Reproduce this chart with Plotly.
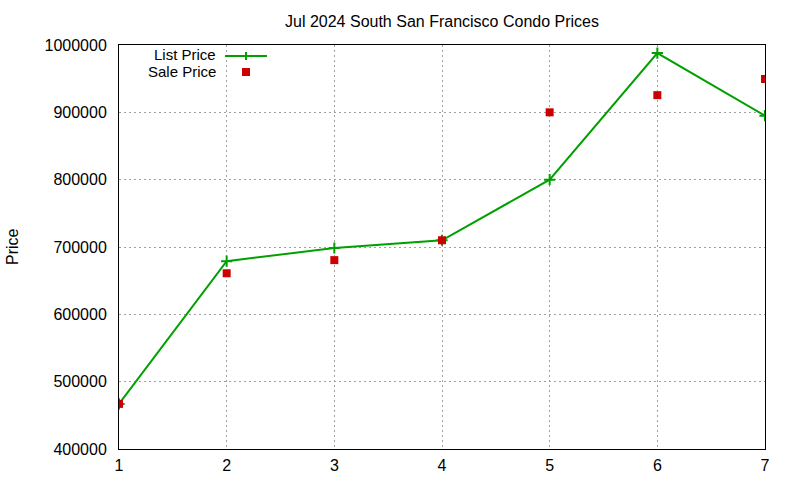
import plotly.graph_objects as go

# Listing index and prices
listing = [1, 2, 3, 4, 5, 6, 7]
list_price = [467000, 679000, 698500, 710000, 800000, 988000, 895000]
sale_price = [467000, 661000, 680500, 710000, 900000, 925500, 949500]

green = "#00a000"
red = "#cc0000"

fig = go.Figure()

fig.add_trace(
    go.Scatter(
        x=listing,
        y=list_price,
        mode="lines+markers",
        name="List Price",
        line=dict(color=green, width=2),
        marker=dict(symbol="cross-thin", size=8, line=dict(color=green, width=2)),
    )
)
fig.add_trace(
    go.Scatter(
        x=listing,
        y=sale_price,
        mode="markers",
        name="Sale Price",
        marker=dict(symbol="square", size=8, color=red),
    )
)

# plot area in pixels: left 119, right 765, top 45, bottom 449
def px(x):
    return (x - 119) / 646


def py(y):
    return (449 - y) / 404


axis_style = dict(
    showline=True,
    linecolor="black",
    linewidth=1,
    mirror=True,
    ticks="",
    showgrid=True,
    gridcolor="#a0a0a0",
    griddash="2px,3px",
    gridwidth=1,
    zeroline=False,
    automargin=False,
    tickfont=dict(size=16, color="black"),
)

fig.update_layout(
    width=800,
    height=480,
    paper_bgcolor="white",
    plot_bgcolor="white",
    font=dict(family="Liberation Sans, Arial, sans-serif", color="black", size=16),
    showlegend=False,
    margin=dict(l=119, r=35, t=45, b=31),
    title=dict(
        text="Jul 2024 South San Francisco Condo Prices",
        x=442 / 800,
        xanchor="center",
        y=1 - 21 / 480,
        yanchor="middle",
        font=dict(size=16),
    ),
    xaxis=dict(range=[1, 7], dtick=1, ticklabelstandoff=2, **axis_style),
    yaxis=dict(
        range=[400000, 1000000],
        dtick=100000,
        tickformat="d",
        ticklabelstandoff=8,
        **axis_style,
    ),
    annotations=[
        dict(text="Price", xref="paper", yref="paper", x=px(12), y=py(247),
             xanchor="center", yanchor="middle", textangle=-90, showarrow=False),
        dict(text="List Price", xref="paper", yref="paper", x=px(218), y=py(54),
             xanchor="right", yanchor="middle", showarrow=False, font=dict(size=15)),
        dict(text="Sale Price", xref="paper", yref="paper", x=px(218), y=py(72),
             xanchor="right", yanchor="middle", showarrow=False, font=dict(size=15)),
    ],
    shapes=[
        dict(type="line", xref="paper", yref="paper", x0=px(225), x1=px(267),
             y0=py(56), y1=py(56), line=dict(color=green, width=2)),
        dict(type="line", xref="paper", yref="paper", x0=px(246), x1=px(246),
             y0=py(52), y1=py(60), line=dict(color=green, width=2)),
        dict(type="rect", xref="paper", yref="paper", x0=px(242), x1=px(250),
             y0=py(68), y1=py(76), fillcolor=red, line=dict(width=0)),
    ],
)

# drop the page's default 8px body margin so the figure sits at the window origin
fig.write_html(
    "out.html",
    config={"displayModeBar": False},
    post_script="document.body.style.margin = '0';",
)
